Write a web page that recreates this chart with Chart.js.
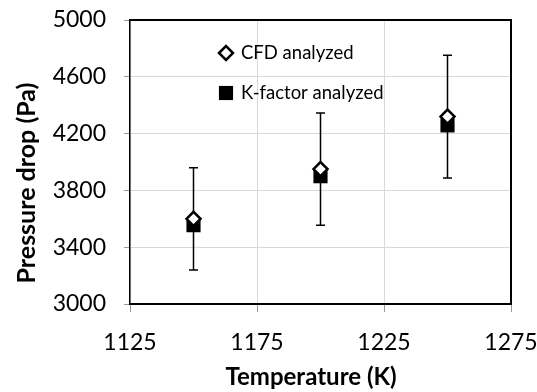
<!DOCTYPE html>
<html>
<head>
<meta charset="utf-8">
<script src="https://cdn.jsdelivr.net/npm/chart.js@4/dist/chart.umd.min.js"></script>
<style>
html,body{margin:0;padding:0;background:#fff;}
#wrap{width:537px;height:392px;position:relative;}
</style>
</head>
<body>
<div id="wrap"><canvas id="c" width="537" height="392"></canvas></div>
<script>
// ---- data ----
const temperatures = [1150, 1200, 1250];
const cfdValues = [3600, 3950, 4320];
const kFactorValues = [3555, 3900, 4258];
const cfdErrors = [360, 395, 432];
const seriesLabels = ['CFD analyzed', 'K-factor analyzed'];
const xTitle = 'Temperature (K)';
const yTitle = 'Pressure drop (Pa)';

const FONT = 'Lato, "Open Sans", sans-serif';

const errorBarPlugin = {
  id: 'errorBars',
  beforeDatasetsDraw(chart) {
    const ctx = chart.ctx, xs = chart.scales.x, ys = chart.scales.y;
    ctx.save();
    ctx.strokeStyle = '#000';
    ctx.lineWidth = 1.5;
    temperatures.forEach((t, i) => {
      const x = xs.getPixelForValue(t);
      const y1 = ys.getPixelForValue(cfdValues[i] + cfdErrors[i]);
      const y2 = ys.getPixelForValue(cfdValues[i] - cfdErrors[i]);
      ctx.beginPath();
      ctx.moveTo(x, y1); ctx.lineTo(x, y2);
      ctx.moveTo(x - 4.5, y1); ctx.lineTo(x + 4.5, y1);
      ctx.moveTo(x - 4.5, y2); ctx.lineTo(x + 4.5, y2);
      ctx.stroke();
    });
    ctx.restore();
  }
};

const framePlugin = {
  id: 'frameAndLegend',
  afterDraw(chart) {
    const ctx = chart.ctx, a = chart.chartArea;
    ctx.save();
    ctx.strokeStyle = '#000';
    ctx.lineWidth = 2;
    ctx.beginPath();
    ctx.moveTo(a.left, a.top); ctx.lineTo(a.right, a.top); ctx.lineTo(a.right, a.bottom);
    ctx.stroke();
    // legend
    const items = [
      {ds: chart.data.datasets[0], y: 53},
      {ds: chart.data.datasets[1], y: 93}
    ];
    ctx.font = '18.5px ' + FONT;
    ctx.textBaseline = 'middle';
    ctx.textAlign = 'left';
    items.forEach(it => {
      const ds = it.ds;
      ctx.strokeStyle = ds.borderColor;
      ctx.fillStyle = ds.backgroundColor;
      ctx.lineWidth = ds.borderWidth;
      Chart.helpers.drawPoint(ctx, {pointStyle: ds.pointStyle, radius: ds.pointRadius, borderWidth: ds.borderWidth}, 226, it.y);
      ctx.fillStyle = '#000';
      ctx.fillText(ds.label, 241, it.y);
    });
    // axis titles
    ctx.font = 'bold 24px ' + FONT;
    ctx.textAlign = 'center';
    ctx.fillText(xTitle, 311, 377);
    ctx.translate(27, 183);
    ctx.rotate(-Math.PI / 2);
    ctx.font = 'bold 25px ' + FONT;
    ctx.fillText(yTitle, 0, 0);
    ctx.restore();
  }
};

const plainTick = v => String(v);

new Chart(document.getElementById('c'), {
  type: 'scatter',
  data: {
    datasets: [
      {
        label: seriesLabels[0],
        data: temperatures.map((t, i) => ({x: t, y: cfdValues[i]})),
        pointStyle: 'rectRot',
        pointRadius: 7,
        pointHoverRadius: 7,
        borderWidth: 2.5,
        borderColor: '#000',
        backgroundColor: '#fff'
      },
      {
        label: seriesLabels[1],
        data: temperatures.map((t, i) => ({x: t, y: kFactorValues[i]})),
        pointStyle: 'rect',
        pointRadius: 10,
        pointHoverRadius: 10,
        borderWidth: 0,
        borderColor: '#000',
        backgroundColor: '#000'
      }
    ]
  },
  options: {
    responsive: false,
    animation: false,
    layout: {padding: {left: 0, top: 20, right: 26, bottom: 0}},
    plugins: {legend: {display: false}, tooltip: {enabled: false}},
    scales: {
      x: {
        type: 'linear', min: 1125, max: 1275,
        afterFit(s) { s.height = 88; s.paddingLeft = 0; s.paddingRight = 0; },
        ticks: {stepSize: 50, color: '#000', font: {family: FONT, size: 23}, padding: 17, maxRotation: 0, callback: plainTick},
        grid: {color: '#d9d9d9', tickColor: '#999', tickLength: 8, lineWidth: 1},
        border: {color: '#000', width: 2}
      },
      y: {
        min: 3000, max: 5000,
        afterFit(s) { s.width = 130; s.paddingTop = 0; s.paddingBottom = 0; },
        ticks: {stepSize: 400, color: '#000', font: {family: FONT, size: 23}, padding: 18, callback: plainTick},
        grid: {color: '#d9d9d9', tickColor: '#999', tickLength: 6, lineWidth: 1},
        border: {color: '#000', width: 1.5}
      }
    }
  },
  plugins: [errorBarPlugin, framePlugin]
});
</script>
</body>
</html>
